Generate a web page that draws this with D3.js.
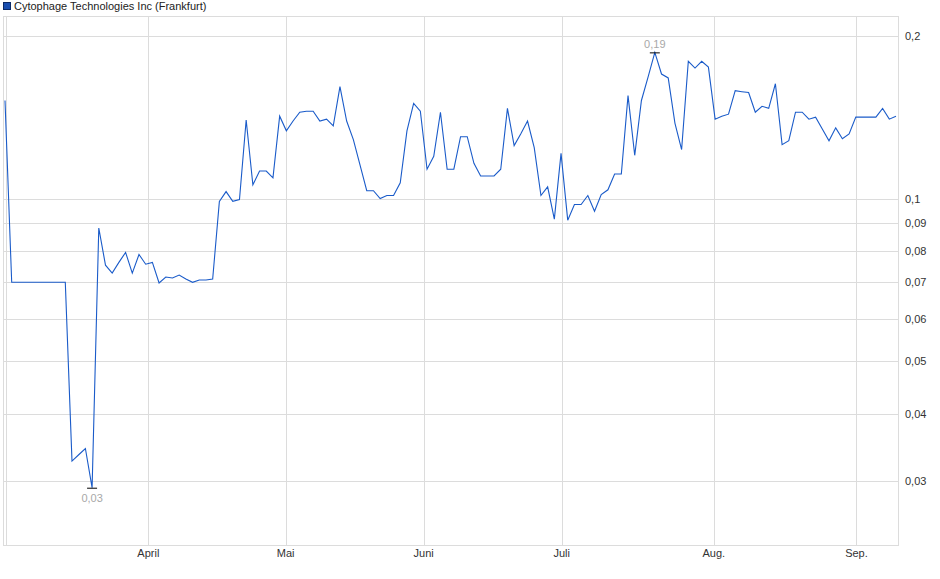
<!DOCTYPE html>
<html>
<head>
<meta charset="utf-8">
<script src="https://cdn.jsdelivr.net/npm/d3@7"></script>
<style>
  body { margin: 0; background: #fff; }
  text { font-family: "Liberation Sans", Arial, sans-serif; }
</style>
</head>
<body>
<div id="container"></div>
<script>
    // Data
    let title = "Cytophage Technologies Inc (Frankfurt)";
    let prices = [
        0.1518, 0.070, 0.070, 0.070, 0.070, 0.070, 0.070, 0.070, 0.070, 0.070,
        0.0327, 0.0336, 0.0345, 0.0292, 0.0882, 0.0753, 0.0728, 0.0762, 0.0795, 0.0728,
        0.0788, 0.0756, 0.0762, 0.0698, 0.0716, 0.0713, 0.0722, 0.0710, 0.0700, 0.0707,
        0.0707, 0.0710, 0.0988, 0.1030, 0.0988, 0.0996, 0.1397, 0.1060, 0.1124, 0.1124,
        0.1092, 0.1420, 0.1334, 0.1391, 0.1444, 0.1450, 0.1450, 0.1391, 0.1402, 0.1362,
        0.1610, 0.1391, 0.1285, 0.1153, 0.1034, 0.1034, 0.1000, 0.1013, 0.1013, 0.1069,
        0.1334, 0.1499, 0.1450, 0.1133, 0.1197, 0.1444, 0.1133, 0.1133, 0.1301, 0.1301,
        0.1162, 0.1101, 0.1101, 0.1101, 0.1133, 0.1468, 0.1253, 0.1317, 0.1391, 0.1242,
        0.1013, 0.1051, 0.0916, 0.1212, 0.0912, 0.0975, 0.0975, 0.1013, 0.0947, 0.1017,
        0.1038, 0.1110, 0.1110, 0.1550, 0.1202, 0.1518, 0.1678, 0.1863, 0.1699, 0.1671,
        0.1379, 0.1232, 0.1794, 0.1743, 0.1794, 0.1750, 0.1402, 0.1420, 0.1432, 0.1583,
        0.1576, 0.1570, 0.1444, 0.1481, 0.1468, 0.1630, 0.1258, 0.1279, 0.1444, 0.1444,
        0.1402, 0.1414, 0.1345, 0.1279, 0.1351, 0.1290, 0.1317, 0.1414, 0.1414, 0.1414,
        0.1414, 0.1468, 0.1402, 0.1420
    ];
    // month starts, as positions in trading-day index
    let monthNames = ["April", "Mai", "Juni", "Juli", "Aug.", "Sep."];
    let monthIdx = [21.4, 41.9, 62.5, 83.1, 105.8, 127.1];
    let yTicks = [0.03, 0.04, 0.05, 0.06, 0.07, 0.08, 0.09, 0.1, 0.2];

    let W = 940, H = 579;
    let pL = 4, pR = 898, pT = 16, pB = 545;

    let svg = d3.select("#container").append("svg")
        .attr("width", W).attr("height", H);

    let x = d3.scaleLinear().domain([0, 133.3]).range([5, pR]);
    let y = d3.scaleLog().domain([0.02288, 0.2175]).range([pB, pT]);

    // Legend
    svg.append("rect").attr("x", 3.5).attr("y", 2.5).attr("width", 7).attr("height", 7)
        .attr("fill", "#1a4fb0").attr("stroke", "#0d2a66");
    svg.append("text").attr("x", 14).attr("y", 10).attr("font-size", 11).attr("fill", "#222")
        .text(title);

    // Grid
    svg.append("g").selectAll("line").data(yTicks).enter().append("line")
        .attr("x1", pL).attr("x2", pR)
        .attr("y1", d => Math.round(y(d)) + 0.5).attr("y2", d => Math.round(y(d)) + 0.5)
        .attr("stroke", "#dcdcdc");
    svg.append("g").selectAll("line").data(monthIdx).enter().append("line")
        .attr("x1", d => Math.round(x(d)) + 0.5).attr("x2", d => Math.round(x(d)) + 0.5)
        .attr("y1", pT).attr("y2", pB)
        .attr("stroke", "#dcdcdc");
    svg.append("line").attr("x1", 6.5).attr("x2", 6.5).attr("y1", pT).attr("y2", pB)
        .attr("stroke", "#dcdcdc");
    svg.append("rect").attr("x", pL - 0.5).attr("y", pT + 0.5)
        .attr("width", pR - pL + 1).attr("height", pB - pT)
        .attr("fill", "none").attr("stroke", "#dcdcdc");

    // Axis labels
    let fmt = d => String(d).replace(".", ",");
    svg.append("g").selectAll("text").data(yTicks).enter().append("text")
        .attr("x", 905).attr("y", d => y(d) + 4)
        .attr("font-size", 11).attr("fill", "#333").text(fmt);
    svg.append("g").selectAll("text").data(monthIdx).enter().append("text")
        .attr("x", d => x(d)).attr("y", 557).attr("text-anchor", "middle")
        .attr("font-size", 11).attr("fill", "#333").text((d, i) => monthNames[i]);

    // Price line
    let line = d3.line().x((d, i) => x(i)).y(d => y(d));
    svg.append("path").datum(prices).attr("d", line)
        .attr("fill", "none").attr("stroke", "#1a5bc9").attr("stroke-width", 1.1);

    // Min / max markers
    let iMax = d3.maxIndex(prices), iMin = d3.minIndex(prices);
    [[iMax, -1], [iMin, 1]].forEach(([i, dir]) => {
        let px = x(i), py = y(prices[i]);
        svg.append("line").attr("x1", px - 5).attr("x2", px + 5)
            .attr("y1", py + 0.5).attr("y2", py + 0.5).attr("stroke", "#000");
        svg.append("text").attr("x", px).attr("y", dir < 0 ? py - 4 : py + 14)
            .attr("text-anchor", "middle").attr("font-size", 11).attr("fill", "#a8a8a8")
            .text(fmt(prices[i].toFixed(2)));
    });
</script>
</body>
</html>
